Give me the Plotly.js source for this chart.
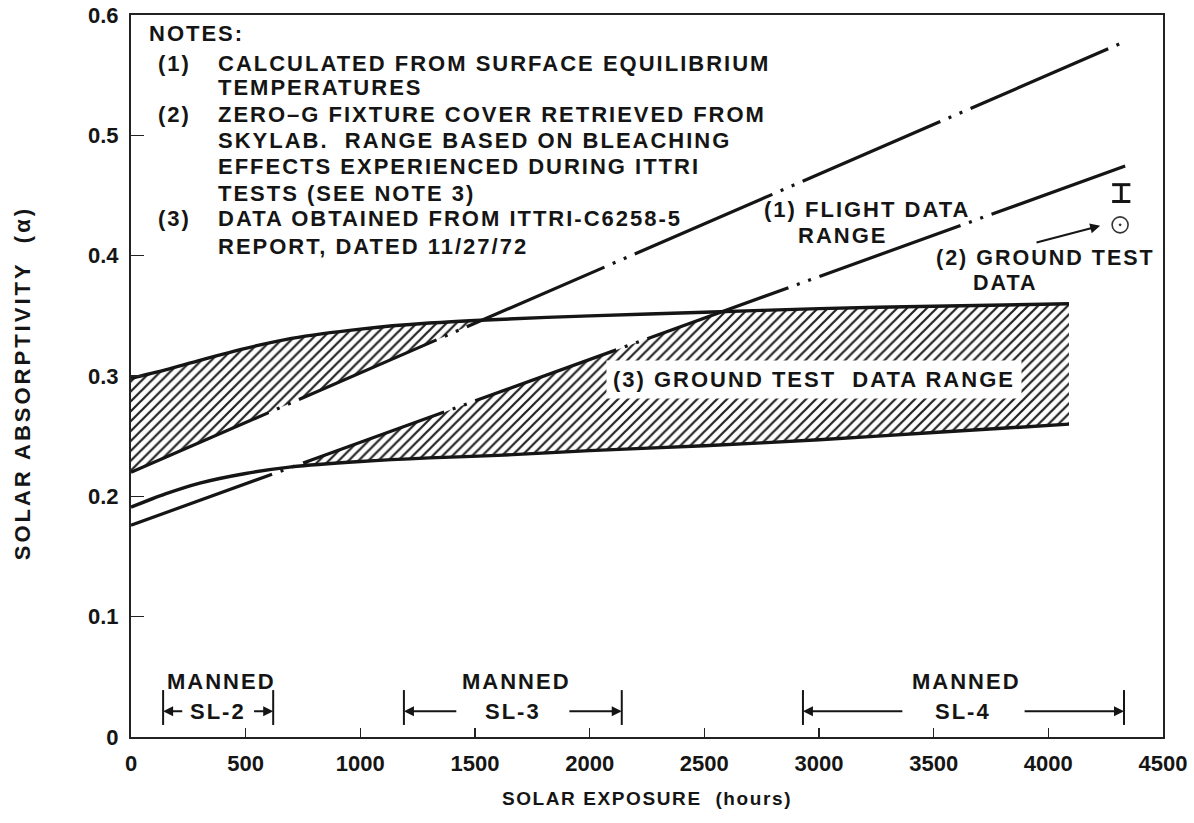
<!DOCTYPE html>
<html>
<head>
<meta charset="utf-8">
<script src="https://cdn.plot.ly/plotly-3.0.1.min.js"></script>
<style>
  html, body { margin: 0; padding: 0; background: #fff; }
  #chart { width: 1194px; height: 823px; }
  .annotation-text { letter-spacing: 2px; }
  .xtitle { letter-spacing: 1.6px; }
</style>
</head>
<body>
<div id="chart"></div>
<script>
// Solar exposure grid (hours) shared by the two curved ground-test bounds
const exposureHours = [0, 150, 300, 500, 700, 1000, 1300, 1600, 2000, 2500, 3000, 3500, 4090];
// (3) Ground test data range: upper and lower bounds of solar absorptivity
const groundUpper = [0.298, 0.305, 0.313, 0.323, 0.3313, 0.339, 0.344, 0.347, 0.350, 0.353, 0.356, 0.358, 0.360];
const groundLower = [0.191, 0.202, 0.211, 0.219, 0.2245, 0.229, 0.232, 0.234, 0.238, 0.242, 0.247, 0.253, 0.260];

// (1) Flight data range: straight-line bounds, given by their end points
const flightHours = [0, 4335];
const flightUpper = [0.220, 0.578];
const flightLower = [0.176, 0.4745];

// (2) Ground test data: retrieved cover point and its bleaching range
const coverHours = [4313];
const coverAlpha = [0.4256];
const bleachHours = [4318, 4318];
const bleachAlpha = [0.445, 0.459];

// Manned Skylab missions (hours of solar exposure)
const missions = ['SL-2', 'SL-3', 'SL-4'];
const missionStart = [140, 1190, 2930];
const missionEnd = [620, 2140, 4330];

const xTicks = [0, 500, 1000, 1500, 2000, 2500, 3000, 3500, 4000, 4500];
const yTicks = [0, 0.1, 0.2, 0.3, 0.4, 0.5, 0.6];

const noteLines = [
  ['(1)', 'CALCULATED FROM SURFACE EQUILIBRIUM'],
  ['', 'TEMPERATURES'],
  ['(2)', 'ZERO\u2013G FIXTURE COVER RETRIEVED FROM'],
  ['', 'SKYLAB.\u00a0 RANGE BASED ON BLEACHING'],
  ['', 'EFFECTS EXPERIENCED DURING ITTRI'],
  ['', 'TESTS (SEE NOTE 3)'],
  ['(3)', 'DATA OBTAINED FROM ITTRI-C6258-5'],
  ['', 'REPORT, DATED 11/27/72']
];

// ---------- geometry helpers ----------
function lineAt(xs, ys, x) {
  return ys[0] + (x - xs[0]) * (ys[1] - ys[0]) / (xs[1] - xs[0]);
}
function crossing(xs, ys, f) {
  for (let i = 0; i < xs.length - 1; i++) {
    const a = ys[i] - f(xs[i]);
    const b = ys[i + 1] - f(xs[i + 1]);
    if (a * b < 0) {
      const t = a / (a - b);
      return { x: xs[i] + t * (xs[i + 1] - xs[i]), y: ys[i] + t * (ys[i + 1] - ys[i]) };
    }
  }
  return null;
}
const fUp = x => lineAt(flightHours, flightUpper, x);
const fLo = x => lineAt(flightHours, flightLower, x);

// Upper hatched band: between the upper flight line and the upper ground bound
const cUp = crossing(exposureHours, groundUpper, fUp);
const upX = [], upY = [];
exposureHours.forEach(x => { if (x < cUp.x) { upX.push(x); upY.push(fUp(x)); } });
upX.push(cUp.x); upY.push(cUp.y);
for (let i = exposureHours.length - 1; i >= 0; i--) {
  if (exposureHours[i] < cUp.x) { upX.push(exposureHours[i]); upY.push(groundUpper[i]); }
}

// Lower hatched band: above the lower ground bound, under min(lower flight line, upper ground bound)
const c1 = crossing(exposureHours, groundLower, fLo);
const c2 = crossing(exposureHours, groundUpper, fLo);
const loX = [c1.x], loY = [c1.y];
exposureHours.forEach((x, i) => {
  if (x > c1.x && x < c2.x) { loX.push(x); loY.push(fLo(x)); }
});
loX.push(c2.x); loY.push(c2.y);
exposureHours.forEach((x, i) => {
  if (x > c2.x) { loX.push(x); loY.push(groundUpper[i]); }
});
for (let i = exposureHours.length - 1; i >= 0; i--) {
  if (exposureHours[i] > c1.x) { loX.push(exposureHours[i]); loY.push(groundLower[i]); }
}
loX.push(c1.x); loY.push(c1.y);

// ---------- styles ----------
const INK = '#151515';
const FONT = 'Liberation Sans, Arial, Helvetica, sans-serif';
const hatch = { shape: '/', size: 7, solidity: 0.32, fgcolor: '#222', bgcolor: '#fff', fillmode: 'replace' };
const dashDotDot = '150px,9px,3px,9px,3px,9px';

const traces = [
  { x: upX, y: upY, mode: 'lines', fill: 'toself', fillcolor: '#222', fillpattern: hatch,
    line: { width: 0 }, hoverinfo: 'skip', showlegend: false },
  { x: loX, y: loY, mode: 'lines', fill: 'toself', fillcolor: '#222', fillpattern: hatch,
    line: { width: 0 }, hoverinfo: 'skip', showlegend: false },
  { x: exposureHours, y: groundUpper, mode: 'lines',
    line: { color: INK, width: 3.4, shape: 'spline', smoothing: 0.8 }, showlegend: false },
  { x: exposureHours, y: groundLower, mode: 'lines',
    line: { color: INK, width: 3.4, shape: 'spline', smoothing: 0.8 }, showlegend: false },
  { x: flightHours, y: flightUpper, mode: 'lines', line: { color: INK, width: 3.2, dash: dashDotDot }, showlegend: false },
  { x: flightHours, y: flightLower, mode: 'lines', line: { color: INK, width: 3.2, dash: dashDotDot }, showlegend: false },
  { x: bleachHours, y: bleachAlpha, mode: 'lines+markers', line: { color: INK, width: 3 },
    marker: { symbol: 'line-ew', size: 13, line: { color: INK, width: 3 } }, showlegend: false },
  { x: coverHours, y: coverAlpha, mode: 'markers',
    marker: { symbol: 'circle-open-dot', size: 16, color: '#333', line: { color: '#333', width: 1.6 } },
    showlegend: false }
];

// ---------- annotations ----------
const txt = (size) => ({ family: FONT, size: size, color: INK, weight: 'bold' });
const annotations = [];

annotations.push({ x: 70, y: 0.585, xref: 'x', yref: 'y', text: 'NOTES:', showarrow: false,
  xanchor: 'left', yanchor: 'middle', font: txt(22) });
const noteY = [0.560, 0.540, 0.517, 0.496, 0.4745, 0.452, 0.431, 0.408];
noteLines.forEach((ln, i) => {
  if (ln[0]) annotations.push({ x: 110, y: noteY[i], xref: 'x', yref: 'y', text: ln[0], showarrow: false,
    xanchor: 'left', yanchor: 'middle', font: txt(22) });
  annotations.push({ x: 372, y: noteY[i], xref: 'x', yref: 'y', text: ln[1], showarrow: false,
    xanchor: 'left', yanchor: 'middle', font: txt(22) });
});

// Curve labels
annotations.push({ x: 2752, y: 0.438, text: '(1) FLIGHT DATA', showarrow: false, xanchor: 'left', yanchor: 'middle', font: txt(22) });
annotations.push({ x: 2900, y: 0.417, text: 'RANGE', showarrow: false, xanchor: 'left', yanchor: 'middle', font: txt(22) });
annotations.push({ x: 3502, y: 0.398, text: '(2) GROUND TEST', showarrow: false, xanchor: 'left', yanchor: 'middle', font: txt(21.5) });
annotations.push({ x: 3664, y: 0.377, text: 'DATA', showarrow: false, xanchor: 'left', yanchor: 'middle', font: txt(21.5) });
annotations.push({ x: 2979, y: 0.2975, text: '(3) GROUND TEST\u00a0 DATA RANGE', showarrow: false,
  xanchor: 'center', yanchor: 'middle', bgcolor: '#fff', borderpad: 6, font: txt(22) });

// Pointer from the (2) label to the cover data point
annotations.push({ x: 4226, y: 0.4248, ax: 3942, ay: 0.4106, axref: 'x', ayref: 'y', text: '',
  showarrow: true, arrowhead: 2, arrowsize: 1, arrowwidth: 2, arrowcolor: INK });

// Mission brackets
const labelGap = [150, 240, 260];
const shapes = [];
missions.forEach((m, i) => {
  const mid = (missionStart[i] + missionEnd[i]) / 2;
  annotations.push({ x: mid + 15, y: 0.0465, text: 'MANNED', showarrow: false, xanchor: 'center', yanchor: 'middle', font: txt(22) });
  annotations.push({ x: mid, y: 0.0215, text: m, showarrow: false, xanchor: 'center', yanchor: 'middle', font: txt(22) });
  annotations.push({ x: missionStart[i], y: 0.0215, ax: mid - labelGap[i], ay: 0.0215, axref: 'x', ayref: 'y',
    text: '', showarrow: true, arrowhead: 2, arrowsize: 1, arrowwidth: 2, arrowcolor: INK });
  annotations.push({ x: missionEnd[i], y: 0.0215, ax: mid + labelGap[i], ay: 0.0215, axref: 'x', ayref: 'y',
    text: '', showarrow: true, arrowhead: 2, arrowsize: 1, arrowwidth: 2, arrowcolor: INK });
  [missionStart[i], missionEnd[i]].forEach(xv => shapes.push({
    type: 'line', xref: 'x', yref: 'y', x0: xv, x1: xv, y0: 0.010, y1: 0.039,
    line: { color: INK, width: 2 } }));
});

// Y axis title
annotations.push({ xref: 'paper', yref: 'paper', x: -0.1056, y: 0.49,
  text: '<span style="letter-spacing:3px">SOLAR ABSORPTIVITY\u00a0 (\u03b1)</span>',
  textangle: -90, showarrow: false, xanchor: 'center', yanchor: 'middle', font: txt(22) });

const layout = {
  width: 1194, height: 823, autosize: false,
  margin: { l: 131, r: 31, t: 15, b: 86 },
  paper_bgcolor: '#fff', plot_bgcolor: '#fff',
  showlegend: false,
  xaxis: {
    range: [0, 4500], tickvals: xTicks, ticktext: xTicks.map(String),
    ticks: 'inside', ticklen: 9, tickwidth: 1.6, tickcolor: '#222',
    showline: true, linewidth: 2, linecolor: '#222', mirror: true,
    showgrid: false, zeroline: false, ticklabelstandoff: 6,
    tickfont: { family: FONT, size: 22, color: INK, weight: 'bold' },
    title: { text: 'SOLAR EXPOSURE\u00a0 (hours)', standoff: 16, font: { family: FONT, size: 19, color: INK, weight: 'bold' } }
  },
  yaxis: {
    range: [0, 0.6], tickvals: yTicks, ticktext: yTicks.map(v => v === 0 ? '0' : v.toFixed(1)),
    ticks: 'inside', ticklen: 13, tickwidth: 1.6, tickcolor: '#222',
    showline: true, linewidth: 2, linecolor: '#222', mirror: true,
    showgrid: false, zeroline: false, ticklabelstandoff: 6,
    tickfont: { family: FONT, size: 22, color: INK, weight: 'bold' }
  },
  annotations: annotations,
  shapes: shapes
};

Plotly.newPlot('chart', traces, layout, { displayModeBar: false, staticPlot: true });
</script>
</body>
</html>
